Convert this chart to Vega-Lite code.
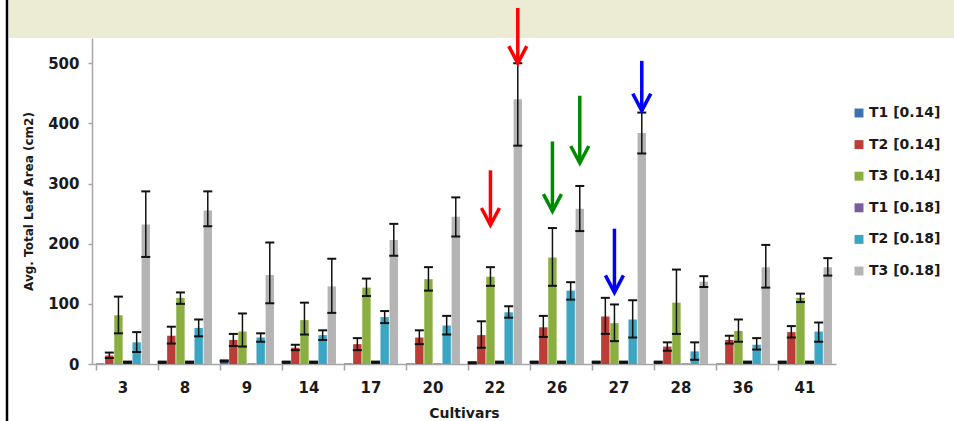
{
  "$schema": "https://vega.github.io/schema/vega-lite/v6.json",
  "width": 744,
  "height": 326,
  "autosize": {"type": "none"},
  "padding": {"left": 92, "top": 38, "right": 118, "bottom": 57},
  "background": "#FFFFFF",
  "config": {
    "view": {"stroke": null},
    "font": "DejaVu Sans"
  },
  "datasets": {
    "bars": [
      {"c": "3", "s": "T1 [0.14]", "v": 1, "lo": null, "hi": null},
      {"c": "3", "s": "T2 [0.14]", "v": 14, "lo": 10, "hi": 19},
      {"c": "3", "s": "T3 [0.14]", "v": 81, "lo": 51, "hi": 112},
      {"c": "3", "s": "T1 [0.18]", "v": 3, "lo": 2, "hi": 4},
      {"c": "3", "s": "T2 [0.18]", "v": 36, "lo": 20, "hi": 53},
      {"c": "3", "s": "T3 [0.18]", "v": 232, "lo": 178, "hi": 287},
      {"c": "8", "s": "T1 [0.14]", "v": 3, "lo": 2, "hi": 4},
      {"c": "8", "s": "T2 [0.14]", "v": 47, "lo": 34, "hi": 62},
      {"c": "8", "s": "T3 [0.14]", "v": 110, "lo": 100, "hi": 119},
      {"c": "8", "s": "T1 [0.18]", "v": 3, "lo": 2, "hi": 4},
      {"c": "8", "s": "T2 [0.18]", "v": 60, "lo": 46, "hi": 74},
      {"c": "8", "s": "T3 [0.18]", "v": 255, "lo": 229, "hi": 287},
      {"c": "9", "s": "T1 [0.14]", "v": 5, "lo": 4, "hi": 6},
      {"c": "9", "s": "T2 [0.14]", "v": 40, "lo": 30, "hi": 50},
      {"c": "9", "s": "T3 [0.14]", "v": 54, "lo": 29, "hi": 84},
      {"c": "9", "s": "T1 [0.18]", "v": 1, "lo": null, "hi": null},
      {"c": "9", "s": "T2 [0.18]", "v": 44, "lo": 37, "hi": 51},
      {"c": "9", "s": "T3 [0.18]", "v": 148, "lo": 101, "hi": 202},
      {"c": "14", "s": "T1 [0.14]", "v": 3, "lo": 2, "hi": 4},
      {"c": "14", "s": "T2 [0.14]", "v": 27, "lo": 23, "hi": 32},
      {"c": "14", "s": "T3 [0.14]", "v": 73, "lo": 49, "hi": 102},
      {"c": "14", "s": "T1 [0.18]", "v": 3, "lo": 2, "hi": 4},
      {"c": "14", "s": "T2 [0.18]", "v": 48, "lo": 40, "hi": 56},
      {"c": "14", "s": "T3 [0.18]", "v": 129, "lo": 85, "hi": 175},
      {"c": "17", "s": "T1 [0.14]", "v": 1, "lo": null, "hi": null},
      {"c": "17", "s": "T2 [0.14]", "v": 33, "lo": 23, "hi": 43},
      {"c": "17", "s": "T3 [0.14]", "v": 127, "lo": 113, "hi": 142},
      {"c": "17", "s": "T1 [0.18]", "v": 3, "lo": 2, "hi": 4},
      {"c": "17", "s": "T2 [0.18]", "v": 78, "lo": 68, "hi": 88},
      {"c": "17", "s": "T3 [0.18]", "v": 206, "lo": 180, "hi": 233},
      {"c": "20", "s": "T1 [0.14]", "v": 1, "lo": null, "hi": null},
      {"c": "20", "s": "T2 [0.14]", "v": 44, "lo": 33, "hi": 56},
      {"c": "20", "s": "T3 [0.14]", "v": 141, "lo": 122, "hi": 161},
      {"c": "20", "s": "T1 [0.18]", "v": 1, "lo": null, "hi": null},
      {"c": "20", "s": "T2 [0.18]", "v": 64, "lo": 49, "hi": 80},
      {"c": "20", "s": "T3 [0.18]", "v": 245, "lo": 212, "hi": 277},
      {"c": "22", "s": "T1 [0.14]", "v": 2, "lo": 1, "hi": 3},
      {"c": "22", "s": "T2 [0.14]", "v": 48, "lo": 27, "hi": 71},
      {"c": "22", "s": "T3 [0.14]", "v": 145, "lo": 130, "hi": 161},
      {"c": "22", "s": "T1 [0.18]", "v": 3, "lo": 2, "hi": 4},
      {"c": "22", "s": "T2 [0.18]", "v": 86, "lo": 77, "hi": 96},
      {"c": "22", "s": "T3 [0.18]", "v": 440, "lo": 363, "hi": 500},
      {"c": "26", "s": "T1 [0.14]", "v": 3, "lo": 2, "hi": 4},
      {"c": "26", "s": "T2 [0.14]", "v": 61, "lo": 45, "hi": 80},
      {"c": "26", "s": "T3 [0.14]", "v": 177, "lo": 130, "hi": 226},
      {"c": "26", "s": "T1 [0.18]", "v": 3, "lo": 2, "hi": 4},
      {"c": "26", "s": "T2 [0.18]", "v": 122, "lo": 107, "hi": 136},
      {"c": "26", "s": "T3 [0.18]", "v": 258, "lo": 221, "hi": 296},
      {"c": "27", "s": "T1 [0.14]", "v": 3, "lo": 2, "hi": 4},
      {"c": "27", "s": "T2 [0.14]", "v": 79, "lo": 50, "hi": 110},
      {"c": "27", "s": "T3 [0.14]", "v": 68, "lo": 38, "hi": 99},
      {"c": "27", "s": "T1 [0.18]", "v": 3, "lo": 2, "hi": 4},
      {"c": "27", "s": "T2 [0.18]", "v": 74, "lo": 44, "hi": 106},
      {"c": "27", "s": "T3 [0.18]", "v": 384, "lo": 350, "hi": 418},
      {"c": "28", "s": "T1 [0.14]", "v": 3, "lo": 2, "hi": 4},
      {"c": "28", "s": "T2 [0.14]", "v": 29, "lo": 22, "hi": 36},
      {"c": "28", "s": "T3 [0.14]", "v": 102, "lo": 50, "hi": 157},
      {"c": "28", "s": "T1 [0.18]", "v": 1, "lo": null, "hi": null},
      {"c": "28", "s": "T2 [0.18]", "v": 21, "lo": 7, "hi": 36},
      {"c": "28", "s": "T3 [0.18]", "v": 137, "lo": 128, "hi": 146},
      {"c": "36", "s": "T1 [0.14]", "v": 1, "lo": null, "hi": null},
      {"c": "36", "s": "T2 [0.14]", "v": 40, "lo": 34, "hi": 47},
      {"c": "36", "s": "T3 [0.14]", "v": 55, "lo": 37, "hi": 74},
      {"c": "36", "s": "T1 [0.18]", "v": 3, "lo": 2, "hi": 4},
      {"c": "36", "s": "T2 [0.18]", "v": 32, "lo": 24, "hi": 43},
      {"c": "36", "s": "T3 [0.18]", "v": 161, "lo": 127, "hi": 198},
      {"c": "41", "s": "T1 [0.14]", "v": 3, "lo": 2, "hi": 4},
      {"c": "41", "s": "T2 [0.14]", "v": 53, "lo": 44, "hi": 63},
      {"c": "41", "s": "T3 [0.14]", "v": 110, "lo": 103, "hi": 117},
      {"c": "41", "s": "T1 [0.18]", "v": 3, "lo": 2, "hi": 4},
      {"c": "41", "s": "T2 [0.18]", "v": 54, "lo": 37, "hi": 69},
      {"c": "41", "s": "T3 [0.18]", "v": 161, "lo": 147, "hi": 176}
    ],
    "arrows": [
      {"c": "22", "s": "T3 [0.14]", "top": 322, "tip": 231, "col": "#FF0000"},
      {"c": "22", "s": "T3 [0.18]", "top": 592, "tip": 500, "col": "#FF0000"},
      {"c": "26", "s": "T3 [0.14]", "top": 370, "tip": 254, "col": "#008A00"},
      {"c": "26", "s": "T3 [0.18]", "top": 446, "tip": 334, "col": "#008A00"},
      {"c": "27", "s": "T3 [0.14]", "top": 225, "tip": 119, "col": "#0000FF"},
      {"c": "27", "s": "T3 [0.18]", "top": 504, "tip": 421, "col": "#0000FF"}
    ]
  },
  "layer": [
    {
      "data": {"values": [{}]},
      "mark": {"type": "rect", "fill": "#ECECD4"},
      "encoding": {
        "y": {"datum": 542, "type": "quantitative"},
        "y2": {"datum": 610},
        "x": {"value": -83},
        "x2": {"value": 862}
      }
    },
    {
      "data": {"values": [{}]},
      "mark": {"type": "rule", "stroke": "#000000", "strokeWidth": 2.5},
      "encoding": {
        "x": {"value": -85},
        "y": {"datum": 610, "type": "quantitative"},
        "y2": {"datum": -100}
      }
    },
    {
      "data": {"name": "bars"},
      "mark": {"type": "bar"},
      "encoding": {
        "x": {
          "field": "c", "type": "nominal", "sort": null, "title": "Cultivars",
          "scale": {"paddingInner": 0.13, "paddingOuter": 0.065},
          "axis": {
            "bandPosition": 0, "labelAngle": 0, "grid": false,
            "domainColor": "#A6A6A6", "domainWidth": 1.5,
            "tickColor": "#A6A6A6", "tickWidth": 1.5, "tickSize": 6,
            "labelFont": "DejaVu Sans", "labelFontWeight": "bold", "labelFontSize": 15,
            "labelColor": "#1A1A1A", "labelPadding": 10,
            "titleFont": "DejaVu Sans", "titleFontWeight": "bold", "titleFontSize": 14,
            "titleColor": "#1A1A1A", "titlePadding": 11
          }
        },
        "xOffset": {
          "field": "s", "type": "nominal", "sort": null,
          "scale": {"paddingInner": 0.08, "paddingOuter": 0}
        },
        "y": {
          "field": "v", "type": "quantitative", "title": "Avg. Total Leaf Area (cm2)",
          "scale": {"domain": [0, 542], "nice": false},
          "axis": {
            "values": [0, 100, 200, 300, 400, 500],
            "gridColor": "#BDBDBD", "gridWidth": 1.5,
            "domainColor": "#A6A6A6", "domainWidth": 1.5,
            "tickColor": "#A6A6A6", "tickWidth": 1.5, "tickSize": 4,
            "labelFont": "DejaVu Sans", "labelFontWeight": "bold", "labelFontSize": 15,
            "labelColor": "#1A1A1A", "labelPadding": 9,
            "titleFont": "DejaVu Sans", "titleFontWeight": "bold", "titleFontSize": 12,
            "titleColor": "#1A1A1A", "titlePadding": 12
          }
        },
        "color": {
          "field": "s", "type": "nominal", "sort": null,
          "scale": {
            "domain": ["T1 [0.14]", "T2 [0.14]", "T3 [0.14]", "T1 [0.18]", "T2 [0.18]", "T3 [0.18]"],
            "range": ["#3E70B0", "#BC3C38", "#8AAE40", "#7A5CA0", "#3BA5C4", "#B4B4B4"]
          },
          "legend": {
            "title": null, "orient": "none", "legendX": 760, "legendY": 68,
            "symbolType": "square", "symbolSize": 80, "symbolStrokeWidth": 0,
            "labelFont": "DejaVu Sans", "labelFontWeight": "bold", "labelFontSize": 14,
            "labelColor": "#1A1A1A", "rowPadding": 17.6, "labelOffset": 3
          }
        }
      }
    },
    {
      "data": {"name": "bars"},
      "mark": {"type": "rule", "stroke": "#111111", "strokeWidth": 1.5},
      "encoding": {
        "x": {"field": "c", "type": "nominal", "sort": null, "title": "Cultivars"},
        "xOffset": {"field": "s", "type": "nominal", "sort": null},
        "y": {"field": "lo", "type": "quantitative", "title": "Avg. Total Leaf Area (cm2)"},
        "y2": {"field": "hi"}
      }
    },
    {
      "data": {"name": "bars"},
      "mark": {"type": "tick", "color": "#111111", "thickness": 2, "size": 9, "orient": "horizontal", "opacity": 1},
      "encoding": {
        "x": {"field": "c", "type": "nominal", "sort": null, "title": "Cultivars"},
        "xOffset": {"field": "s", "type": "nominal", "sort": null},
        "y": {"field": "hi", "type": "quantitative", "title": "Avg. Total Leaf Area (cm2)"}
      }
    },
    {
      "data": {"name": "bars"},
      "mark": {"type": "tick", "color": "#111111", "thickness": 2, "size": 9, "orient": "horizontal", "opacity": 1},
      "encoding": {
        "x": {"field": "c", "type": "nominal", "sort": null, "title": "Cultivars"},
        "xOffset": {"field": "s", "type": "nominal", "sort": null},
        "y": {"field": "lo", "type": "quantitative", "title": "Avg. Total Leaf Area (cm2)"}
      }
    },
    {
      "data": {"name": "arrows"},
      "mark": {"type": "rule", "strokeWidth": 3.5},
      "encoding": {
        "x": {"field": "c", "type": "nominal", "sort": null, "title": "Cultivars"},
        "xOffset": {"field": "s", "type": "nominal", "sort": null},
        "y": {"field": "top", "type": "quantitative", "title": "Avg. Total Leaf Area (cm2)"},
        "y2": {"field": "tip"},
        "stroke": {"field": "col", "type": "nominal", "scale": null}
      }
    },
    {
      "data": {"name": "arrows"},
      "mark": {"type": "point", "shape": "M-1,-1.9L0,0L1,-1.9", "filled": false, "size": 324, "strokeWidth": 3.5, "opacity": 1, "strokeJoin": "miter"},
      "encoding": {
        "x": {"field": "c", "type": "nominal", "sort": null, "title": "Cultivars"},
        "xOffset": {"field": "s", "type": "nominal", "sort": null},
        "y": {"field": "tip", "type": "quantitative", "title": "Avg. Total Leaf Area (cm2)"},
        "stroke": {"field": "col", "type": "nominal", "scale": null}
      }
    }
  ]
}
